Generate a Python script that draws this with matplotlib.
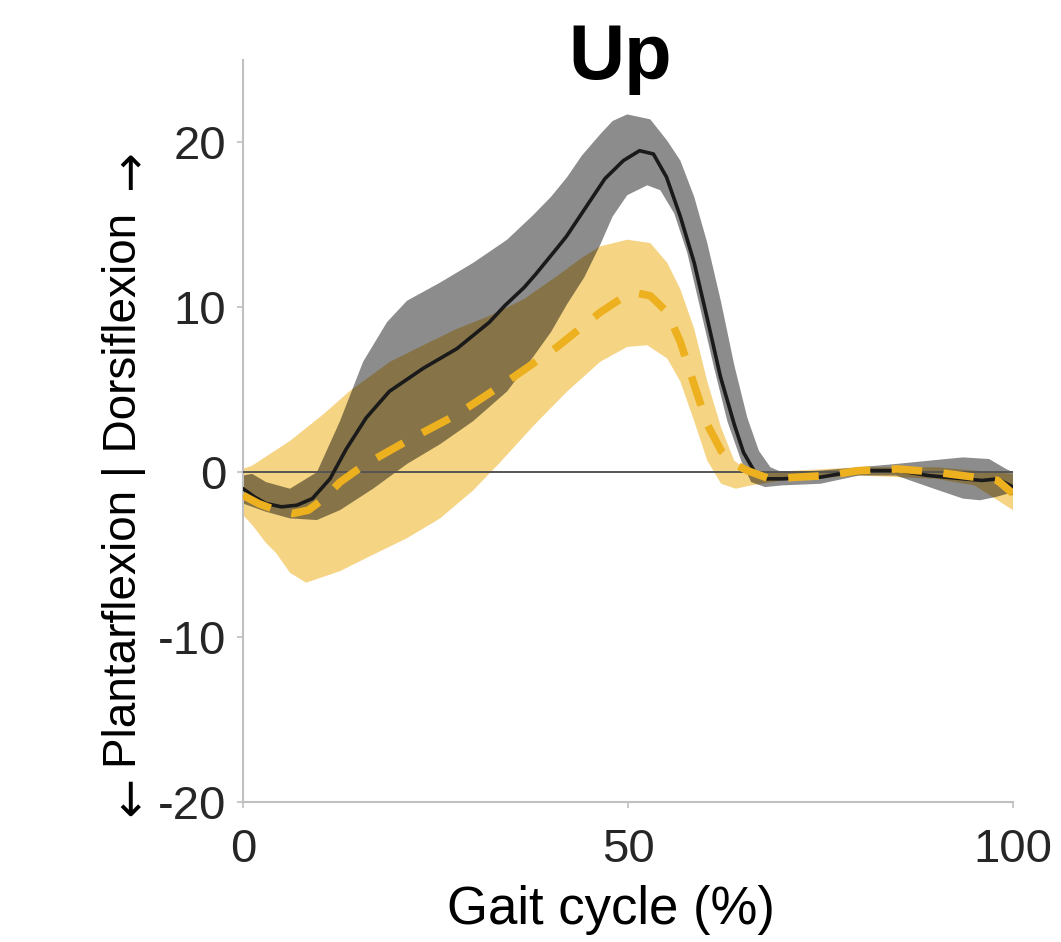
import matplotlib
matplotlib.use("Agg")
import matplotlib.pyplot as plt

plt.rcParams['font.family'] = ['Liberation Sans', 'DejaVu Sans']
plt.rcParams['axes.unicode_minus'] = False

# ---- data ----
# Control (black, mean and band)
x_ctrl = [0, 1.5, 3, 5, 7, 9, 11.3, 13.4, 16, 19, 23.4, 27.8, 32, 34, 36.5, 38, 40.8, 42, 45, 47, 49.4, 51.5, 53.3,
          55, 56.8, 58.6, 60.3, 62, 63.8, 65, 66.6, 68, 70, 75, 80, 85, 89, 93.5, 96, 98, 100]
y_ctrl = [-1.0, -1.5, -1.9, -2.1, -2.0, -1.6, -0.4, 1.4, 3.3, 4.9, 6.3, 7.5, 9.1, 10.1, 11.2, 12.0, 13.6, 14.3, 16.4, 17.8, 18.9, 19.5, 19.3,
          17.9, 15.5, 12.7, 9.3, 5.8, 2.9, 1.2, -0.1, -0.4, -0.4, -0.3, 0.1, 0.1, -0.2, -0.4, -0.5, -0.4, -0.9]

x_ctrl_up = [0, 1.2, 3, 6.1, 9.6, 12.6, 15.6, 18.7, 21.3, 25.6, 29.9, 34.3, 37.7, 40, 42.1, 44, 46.4, 48, 49.9, 52.9,
             55.1, 56.8, 58.6, 60.3, 62.1, 63.8, 65.5, 67, 68.5, 70, 75, 80, 84.8, 89.1, 93.5, 96.9, 99.1, 100]
ctrl_upper = [-0.2, -0.1, -0.6, -1.0, 0.0, 3.1, 6.7, 9.1, 10.4, 11.5, 12.7, 14.1, 15.6, 16.7, 17.9, 19.2, 20.5, 21.3, 21.7, 21.4,
              20.1, 18.9, 16.7, 13.9, 10.3, 6.5, 3.3, 1.3, 0.3, 0.0, 0.1, 0.3, 0.5, 0.7, 0.9, 0.8, 0.2, 0.0]

x_ctrl_lo = [0, 3, 6.1, 9.6, 12.6, 16.9, 21.3, 25.6, 29.9, 34.3, 37.7, 40, 42.1, 44.3, 46.4, 48, 49.9, 52.5, 54.2, 56,
             57.7, 59.4, 61.2, 62.9, 64.7, 66, 67.8, 70, 75, 80, 84.8, 89.1, 93.5, 95.7, 97.8, 99.3, 100]
ctrl_lower = [-1.9, -2.4, -2.8, -2.9, -2.3, -1.0, 0.5, 1.7, 3.1, 4.9, 7.0, 8.5, 10.2, 11.8, 13.8, 15.5, 16.8, 17.4, 17.1, 15.7,
              13.3, 9.9, 6.3, 3.1, 0.7, -0.6, -0.9, -0.8, -0.7, -0.2, -0.2, -0.9, -1.6, -1.7, -1.5, -1.3, -1.4]

# Exoskeleton (yellow, dashed mean and band)
x_exo = [0, 2, 4.3, 6.5, 8.5, 10.5, 12.6, 15.6, 21.3, 27.8, 34.3, 40.8, 46.4, 49, 50.8, 52.9, 55.1, 56.8, 58.6, 60.3, 62.1,
         63.8, 65.5, 68.4, 72, 76, 80, 85, 90, 95, 98, 100]
y_exo = [-1.4, -1.9, -2.3, -2.5, -2.3, -1.6, -0.6, 0.4, 1.9, 3.5, 5.5, 7.6, 9.7, 10.5, 10.9, 10.7, 9.7, 7.9, 5.3, 2.9, 1.3,
         0.5, 0.1, -0.4, -0.3, -0.2, 0.1, 0.2, 0.0, -0.3, -0.5, -1.3]

x_exo_up = [0, 1.2, 6.1, 10.4, 13.8, 19.1, 23.4, 27.8, 32.1, 36.5, 40.8, 44, 46.4, 49.9, 52.9, 55.1, 56.8, 58.6,
            60.3, 62.1, 63.8, 65.5, 68, 72, 80, 90, 95, 100]
exo_upper = [0.2, 0.4, 1.9, 3.5, 4.9, 6.7, 7.7, 8.7, 9.5, 10.5, 11.9, 13.0, 13.7, 14.1, 13.9, 12.7, 11.1, 8.7,
             5.5, 2.7, 0.7, 0.1, 0.0, 0.1, 0.3, 0.3, 0.1, -0.1]

x_exo_lo = [0, 1.2, 3, 4.3, 6.1, 8.2, 12.6, 16.9, 21.3, 25.6, 29.9, 33.4, 37.7, 42.1, 46.4, 49.9, 52.5, 55.1, 56.8,
            58.6, 60.3, 62.1, 64, 66, 70, 80, 90, 95, 100]
exo_lower = [-2.6, -3.2, -4.3, -4.9, -6.1, -6.7, -6.0, -5.0, -4.0, -2.8, -1.1, 0.6, 2.8, 4.9, 6.7, 7.6, 7.7, 6.9, 5.5,
             3.1, 0.7, -0.7, -1.0, -0.8, -0.5, -0.2, -0.4, -0.8, -2.3]

x_ticks = [0, 50, 100]
y_ticks = [-20, -10, 0, 10, 20]

YELLOW = '#EDB120'
SPINE = '#c0c0c0'
TXT = '#262626'

W, H = 1061, 942
fig = plt.figure(figsize=(W / 100, H / 100), dpi=100)
ax = fig.add_axes([243 / W, 1 - 802 / H, (1013 - 243) / W, (802 - 60) / H])

ax.fill(x_exo_up + x_exo_lo[::-1], exo_upper + exo_lower[::-1],
        color=YELLOW, alpha=0.55, lw=0, zorder=1)
ax.fill(x_ctrl_up + x_ctrl_lo[::-1], ctrl_upper + ctrl_lower[::-1],
        color='black', alpha=0.45, lw=0, zorder=2)

ax.axhline(0, color='#555555', lw=1.4, zorder=3)

ax.plot(x_ctrl, y_ctrl, color='#1a1a1a', lw=2.6, zorder=4,
        solid_joinstyle='round', solid_capstyle='round')
ax.plot(x_exo, y_exo, color=YELLOW, lw=5.5, ls=(0, (4, 2.8)), zorder=5,
        dash_joinstyle='round')

ax.set_xlim(0, 100)
ax.set_ylim(-20, 25)
ax.set_xticks(x_ticks)
ax.set_yticks(y_ticks)
ax.spines['top'].set_visible(False)
ax.spines['right'].set_visible(False)
for s in ('left', 'bottom'):
    ax.spines[s].set_color(SPINE)
    ax.spines[s].set_linewidth(1.5)
ax.tick_params(axis='both', colors=SPINE, labelcolor=TXT, labelsize=34,
               length=4, width=1.2, direction='out')
ax.tick_params(axis='x', pad=15)
ax.tick_params(axis='y', pad=8)

fig.text(620 / W, 1 - 79 / H, 'Up', fontsize=56, fontweight='bold',
         color='black', ha='center', va='baseline')
fig.text(611 / W, 1 - 910 / H, 'Gait cycle (%)', fontsize=38, color='black',
         ha='center', va='center')
# y-axis label: text plus direction arrows
fig.text(124 / W, 1 - 490 / H, 'Plantarflexion | Dorsiflexion', fontsize=33,
         color='black', rotation=90, ha='center', va='center')
fig.text(130 / W, 1 - 803 / H, '↓', fontsize=34, color='black',
         family=['DejaVu Sans'], ha='center', va='center')
fig.text(130 / W, 1 - 178 / H, '↑', fontsize=34, color='black',
         family=['DejaVu Sans'], ha='center', va='center')

fig.savefig('out.png', dpi=100)
